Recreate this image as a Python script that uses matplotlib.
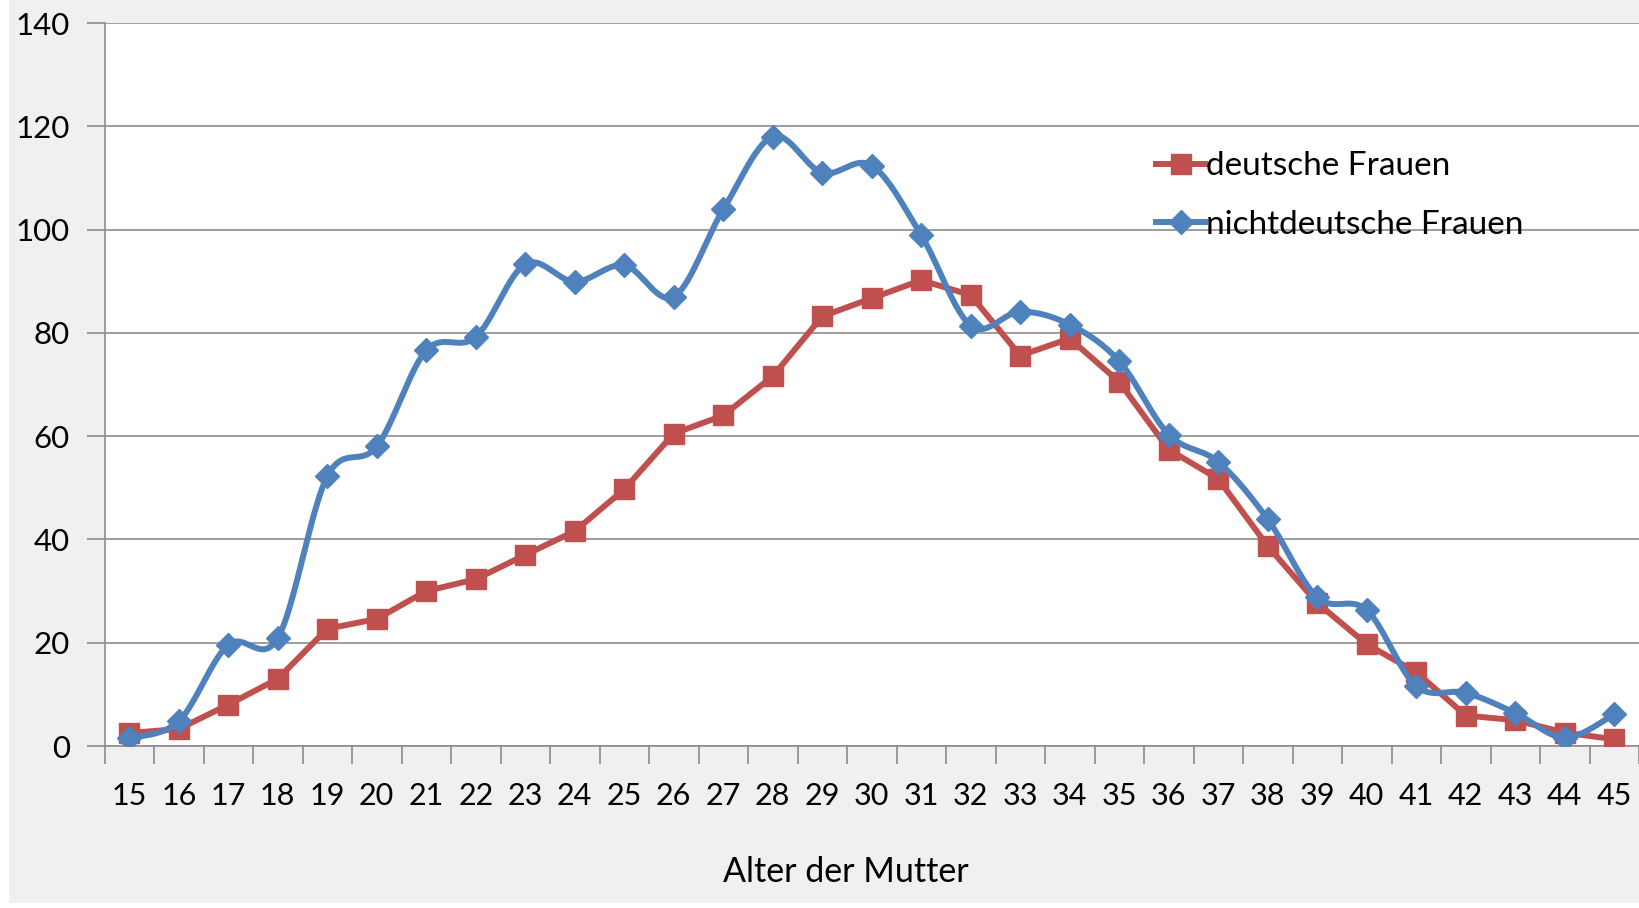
import numpy as np
import matplotlib
matplotlib.use("Agg")
import matplotlib.pyplot as plt
from matplotlib.lines import Line2D
from matplotlib.patches import Rectangle

plt.rcParams['font.family'] = ['Lato', 'DejaVu Sans']

# Alter der Mutter
ages = list(range(15, 46))
deutsche = [2.5, 3.3, 8.0, 13.0, 22.7, 24.6, 30.0, 32.3, 37.0, 41.6, 49.7,
            60.5, 64.0, 71.6, 83.2, 86.7, 90.2, 87.3, 75.6, 78.9, 70.5,
            57.4, 51.7, 38.7, 27.7, 19.7, 14.3, 5.9, 5.0, 2.6, 1.3]
nichtdeutsche = [1.5, 4.8, 19.6, 20.9, 52.2, 58.0, 76.6, 79.2, 93.3, 89.9, 93.1,
                 87.0, 103.9, 118.0, 111.0, 112.4, 98.9, 81.4, 84.1, 81.6, 74.5,
                 60.3, 55.0, 43.9, 28.8, 26.3, 11.6, 10.3, 6.4, 1.6, 6.1]

red = '#C0504D'
blue = '#4F81BD'
grid_col = '#8c8c8c'
lw = 4.3


def smooth(x, y, n=30):
    # Catmull-Rom style bezier, like the "smoothed line" option in Excel
    x = np.asarray(x, float)
    y = np.asarray(y, float)
    px = np.concatenate([[x[0]], x, [x[-1]]])
    py = np.concatenate([[y[0]], y, [y[-1]]])
    t = np.linspace(0, 1, n)[:, None]
    xs, ys = [], []
    for i in range(1, len(px) - 2):
        p0 = np.array([px[i], py[i]])
        p3 = np.array([px[i + 1], py[i + 1]])
        c1 = p0 + (p3 - np.array([px[i - 1], py[i - 1]])) / 6
        c2 = p3 - (np.array([px[i + 2], py[i + 2]]) - p0) / 6
        b = ((1 - t) ** 3) * p0 + 3 * ((1 - t) ** 2) * t * c1 + 3 * (1 - t) * t ** 2 * c2 + t ** 3 * p3
        xs.append(b[:, 0])
        ys.append(b[:, 1])
    return np.concatenate(xs), np.concatenate(ys)


fig = plt.figure(figsize=(16.39, 9.08), dpi=100, facecolor='white')
fig.patches.append(Rectangle((9 / 1639, 5 / 908), 1, 1, transform=fig.transFigure,
                             facecolor='#f0f0f0', edgecolor='none', zorder=-10))

ax = fig.add_axes([104.5 / 1639, 162 / 908, 1534.5 / 1639, 723 / 908])
ax.set_facecolor('white')

xpos = np.arange(len(ages))
ax.plot(xpos, deutsche, color=red, lw=lw, marker='s', ms=15, zorder=3)
sx, sy = smooth(xpos, nichtdeutsche)
ax.plot(sx, sy, color=blue, lw=lw, zorder=4, solid_capstyle='round')
ax.plot(xpos, nichtdeutsche, ls='none', color=blue, marker='D', ms=12, zorder=5)

ax.set_xlim(-0.5, len(ages) - 0.5)
ax.set_ylim(0, 140)
ax.set_yticks(np.arange(0, 141, 20))
ax.yaxis.grid(True, color=grid_col, lw=1.2)
ax.set_axisbelow(True)

# tick marks between categories, labels in the middle
ax.set_xticks(np.arange(-0.5, len(ages), 1))
ax.set_xticklabels([])
ax.set_xticks(xpos, minor=True)
ax.set_xticklabels([str(a) for a in ages], minor=True)
ax.tick_params(axis='x', which='major', length=13, color=grid_col, width=1.2, direction='out')
ax.tick_params(axis='x', which='minor', length=0, pad=26, labelsize=22)
ax.tick_params(axis='y', length=13, color=grid_col, width=1.2, pad=12, labelsize=22.5)

for s in ['top', 'right']:
    ax.spines[s].set_visible(False)
for s in ['left', 'bottom']:
    ax.spines[s].set_color(grid_col)
    ax.spines[s].set_linewidth(1.2)

fig.text(846 / 1639, (908 - 872) / 908, 'Alter der Mutter', ha='center', va='center', fontsize=24.5)

handles = [Line2D([], [], color=red, lw=lw, marker='s', ms=15),
           Line2D([], [], color=blue, lw=lw, marker='D', ms=12)]
ax.legend(handles, ['deutsche Frauen', 'nichtdeutsche Frauen'], loc='upper left',
          bbox_to_anchor=(1143 / 1639, (908 - 138) / 908), bbox_transform=fig.transFigure,
          frameon=False, fontsize=24, handlelength=1.45, handletextpad=0.05,
          labelspacing=0.85, borderaxespad=0)

fig.savefig('out.png', dpi=100, facecolor=fig.get_facecolor())
